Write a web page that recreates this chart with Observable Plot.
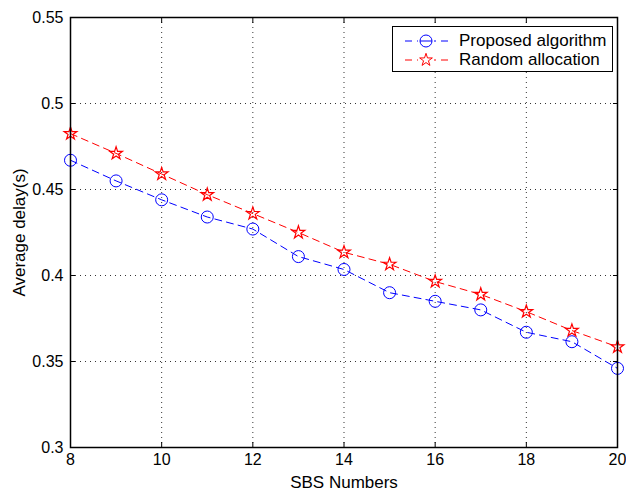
<!DOCTYPE html>
<html><head><meta charset="utf-8">
<script src="https://cdn.jsdelivr.net/npm/d3@7"></script>
<script src="https://cdn.jsdelivr.net/npm/@observablehq/plot@0.6"></script>
<style>
body{margin:0;background:#fff;font-family:"Liberation Sans",Arial,sans-serif;}
#wrap{position:relative;width:626px;height:491px;}
#legend{position:absolute;left:392px;top:26px;width:219px;height:44px;border:1px solid #000;background:#fff;font-size:17px;}
.row{position:absolute;left:0;height:18px;display:flex;align-items:center;}
.row svg{margin-left:5px;}
.row span{margin-left:5px;}
</style></head>
<body><div id="wrap"><div id="chart"></div>
<div id="legend">
<div class="row" style="top:5px"><svg width="56" height="18"><line x1="6" y1="9" x2="54" y2="9" stroke="#0000ff" stroke-dasharray="7,5" stroke-dashoffset="-1"/><line x1="20" y1="9" x2="36" y2="9" stroke="#fff" stroke-width="3"/><circle cx="28" cy="9" r="6" fill="none" stroke="#0000ff"/><line x1="22" y1="9" x2="34" y2="9" stroke="#0000ff"/></svg><span>Proposed algorithm</span></div>
<div class="row" style="top:24px"><svg width="56" height="18"><line x1="6" y1="9" x2="54" y2="9" stroke="#ff0000" stroke-dasharray="7,5" stroke-dashoffset="-1"/><line x1="20" y1="9" x2="36" y2="9" stroke="#fff" stroke-width="3"/><path id="lstar" fill="none" stroke="#ff0000"/></svg><span>Random allocation</span></div>
</div></div>
<script>
const sbs = [8,9,10,11,12,13,14,15,16,17,18,19,20];
const proposed = [0.467,0.455,0.444,0.434,0.427,0.411,0.4035,0.390,0.385,0.380,0.367,0.3615,0.346];
const random = [0.4825,0.471,0.459,0.447,0.436,0.425,0.4135,0.4065,0.3965,0.389,0.379,0.368,0.3585];
const xTicks = [8,10,12,14,16,18,20];
const yTicks = [0.3,0.35,0.4,0.45,0.5,0.55];

const dP = sbs.map((x,i)=>({x, y: proposed[i]}));
const dR = sbs.map((x,i)=>({x, y: random[i]}));

const starPath = d3.symbol(d3.symbolStar, 50)();
document.getElementById("lstar").setAttribute("d", starPath);
document.getElementById("lstar").setAttribute("transform", "translate(28,9)");

const fs = 16;
const chart = Plot.plot({
  width: 626, height: 491,
  marginLeft: 70, marginRight: 9, marginTop: 17, marginBottom: 44,
  style: {fontFamily: '"Liberation Sans", Arial, sans-serif', fontSize: "17px", color: "#000", background: "#fff"},
  x: {domain: [8,20], ticks: xTicks},
  y: {domain: [0.3,0.55], ticks: yTicks},
  marks: [
    Plot.gridX(xTicks.slice(1,-1), {stroke: "#000", strokeOpacity: 0.8, strokeDasharray: "1,4"}),
    Plot.gridY(yTicks.slice(1,-1), {stroke: "#000", strokeOpacity: 0.8, strokeDasharray: "1,4"}),
    Plot.line(dP, {x: "x", y: "y", stroke: "#0000ff", strokeWidth: 1, strokeDasharray: "7,5"}),
    Plot.line(dR, {x: "x", y: "y", stroke: "#ff0000", strokeWidth: 1, strokeDasharray: "7,5"}),
    Plot.dot(dP, {x: "x", y: "y", r: 6, stroke: "#0000ff", fill: "none", strokeWidth: 1}),
    Plot.dot(dR, {x: "x", y: "y", r: 4, symbol: "star", stroke: "#ff0000", fill: "none", strokeWidth: 1.2}),
    Plot.frame({stroke: "#000", strokeWidth: 1.5}),
    Plot.axisX(xTicks, {anchor: "bottom", tickSize: -5, tickPadding: 11, fontSize: fs, label: null}),
    Plot.axisX({anchor: "bottom", ticks: [], tickSize: 0, fontSize: 17, label: "SBS Numbers", labelAnchor: "center", labelOffset: 40, labelArrow: "none"}),
    Plot.axisX(xTicks, {anchor: "top", tickSize: -5, text: null, label: null}),
    Plot.axisY(yTicks, {anchor: "left", tickSize: -5, tickPadding: 12, fontSize: fs, tickFormat: d => String(+d.toFixed(2)), label: null}),
    Plot.axisY({anchor: "left", ticks: [], tickSize: 0, fontSize: 17, label: "Average delay(s)", labelAnchor: "center", labelOffset: 58, labelArrow: "none"}),
    Plot.axisY(yTicks, {anchor: "right", tickSize: -5, text: null, label: null})
  ]
});
document.getElementById("chart").appendChild(chart);
</script></body></html>
